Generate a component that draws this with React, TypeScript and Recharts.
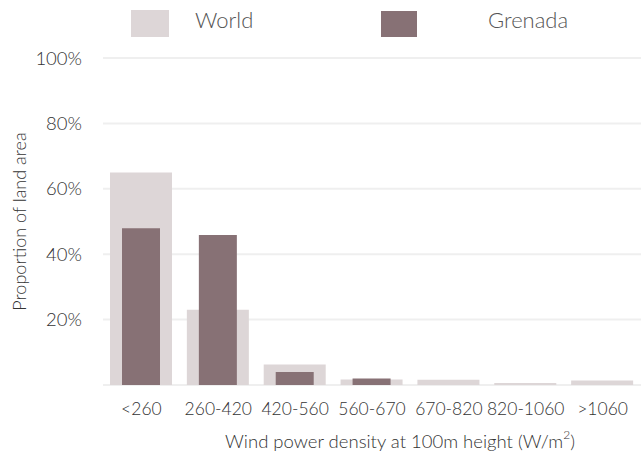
import React from 'react';
import { BarChart, Bar, XAxis, YAxis, CartesianGrid } from 'recharts';

const categories = ['<260', '260-420', '420-560', '560-670', '670-820', '820-1060', '>1060'];
const worldValues = [65, 23, 6.3, 1.7, 1.6, 0.6, 1.4];
const grenadaValues = [47.9, 45.9, 4, 2, 0, 0, 0];
const yTicks = [0, 20, 40, 60, 80, 100];

const data = categories.map((c, i) => ({ cat: c, world: worldValues[i], grenada: grenadaValues[i] }));

const FONT = 'Lato, "Noto Sans", sans-serif';
const WORLD = '#ddd6d7';
const GRENADA = '#877175';

const YLabel = (props: any) => {
  const vb = props.viewBox || {};
  const cx = 19;
  const cy = vb.y + vb.height / 2;
  return (
    <text x={cx} y={cy} transform={`rotate(-90, ${cx}, ${cy})`} textAnchor="middle" dominantBaseline="central"
      fontFamily={FONT} fontWeight={300} fontSize={18} fill="#333">Proportion of land area</text>
  );
};

const XLabel = (props: any) => {
  const vb = props.viewBox || {};
  const cx = vb.x + vb.width / 2 + 28;
  return (
    <text x={cx} y={441} textAnchor="middle" dominantBaseline="central"
      fontFamily={FONT} fontWeight={300} fontSize={18.5} fill="#333">
      Wind power density at 100m height (W/m<tspan dy={-7} fontSize={12}>2</tspan><tspan dy={7}>)</tspan>
    </text>
  );
};

const XTick = (props: any) => {
  const { x, payload } = props;
  return (
    <text x={x} y={408} textAnchor="middle" dominantBaseline="central"
      fontFamily={FONT} fontWeight={300} fontSize={17.5} fill="#333">{payload.value}</text>
  );
};

export default function App() {
  return (
    <div style={{ position: 'absolute', left: 0, top: 0, width: 643, height: 459, background: '#fff', fontFamily: FONT }}>
      <BarChart width={643} height={459} data={data} margin={{ top: 58, right: 2, bottom: 0, left: 0 }}>
        <CartesianGrid vertical={false} stroke="#efefef" strokeWidth={2} />
        <XAxis xAxisId="w" dataKey="cat" interval={0} axisLine={false} tickLine={false}
          height={74} tick={<XTick />} label={<XLabel />} />
        <XAxis xAxisId="g" dataKey="cat" hide />
        <YAxis width={103} domain={[0, 100]} ticks={yTicks} axisLine={false} tickLine={false} tickSize={0} tickMargin={21}
          tickFormatter={(v: number) => (v === 0 ? '' : `${v}%`)}
          tick={{ fontFamily: FONT, fontWeight: 300, fontSize: 18.5, fill: '#333' }} label={<YLabel />} />
        <Bar xAxisId="w" dataKey="world" fill={WORLD} barSize={62} isAnimationActive={false} />
        <Bar xAxisId="g" dataKey="grenada" fill={GRENADA} barSize={38} isAnimationActive={false} />
      </BarChart>
      <div style={{ position: 'absolute', left: 131, top: 10, width: 38, height: 27, background: WORLD }} />
      <div style={{ position: 'absolute', left: 195, top: 7, lineHeight: '26px', fontSize: 22, fontWeight: 300, color: '#555' }}>World</div>
      <div style={{ position: 'absolute', left: 381, top: 11, width: 36, height: 26, background: GRENADA }} />
      <div style={{ position: 'absolute', left: 488, top: 7, lineHeight: '26px', fontSize: 22, fontWeight: 300, color: '#555' }}>Grenada</div>
    </div>
  );
}
